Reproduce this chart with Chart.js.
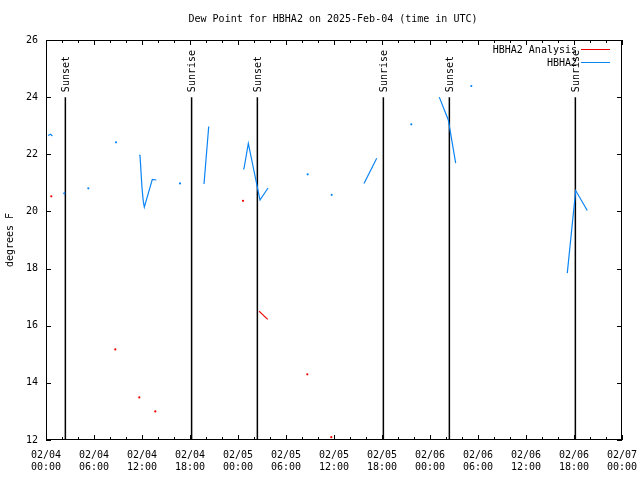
<!DOCTYPE html>
<html><head><meta charset="utf-8">
<script src="https://cdn.jsdelivr.net/npm/chart.js@4/dist/chart.umd.min.js"></script>
<style>html,body{margin:0;padding:0;background:#fff}</style>
</head><body>
<canvas id="c" width="640" height="480"></canvas>
<script>
const titleText = 'Dew Point for HBHA2 on 2025-Feb-04 (time in UTC)';
const yAxisTitle = 'degrees F';
const xTickDates = ['02/04','02/04','02/04','02/04','02/05','02/05','02/05','02/05','02/06','02/06','02/06','02/06','02/07'];
const xTickTimes = ['00:00','06:00','12:00','18:00','00:00','06:00','12:00','18:00','00:00','06:00','12:00','18:00','00:00'];
const yTicks = [12,14,16,18,20,22,24,26];

// hours since 2025-02-04 00:00 UTC; null marks a gap in the record
const obsHours = [0.25,0.58,0.79,null,2.29,null,5.29,null,8.75,null,
  11.66,11.75,12.0,12.16,12.29,13.29,13.79,null,16.75,null,19.75,20.34,null,
  24.66,24.75,25.29,26.75,27.75,null,32.71,null,35.71,null,39.75,41.34,null,
  45.66,null,49.16,50.29,51.21,null,53.16,null,65.16,66.21,67.66];
const obsDewPt = [22.66,22.70,22.64,null,20.63,null,20.81,null,22.42,null,
  21.98,21.96,20.82,20.35,20.15,21.12,21.10,null,20.98,null,20.96,22.97,null,
  21.47,21.50,22.38,20.40,20.82,null,21.30,null,20.58,null,20.98,21.86,null,
  23.05,null,24.00,23.20,21.69,null,24.39,null,17.84,20.73,20.03];

const anaHours = [0.66,null,8.66,null,11.66,null,13.66,null,24.63,null,26.63,27.71,null,32.66,null,35.66];
const anaDewPt = [20.53,null,15.17,null,13.49,null,13.00,null,20.37,null,16.51,16.22,null,14.30,null,12.10];

const sunHours = [2.42, 18.2, 26.42, 42.17, 50.42, 66.17];
const sunLabels = ['Sunset','Sunrise','Sunset','Sunrise','Sunset','Sunrise'];
const sunLineTop = 24;

const FONT = '10px "DejaVu Sans Mono", "Liberation Mono", monospace';

function toPoints(h, v) {
  return h.map((x, i) => ({ x: x === null ? h[i - 1] : x, y: v[i] }));
}
function isolatedRadius(ctx) {
  const d = ctx.dataset.data, i = ctx.dataIndex;
  if (!d[i] || d[i].y == null) return 0;
  const p = d[i - 1], n = d[i + 1];
  return ((!p || p.y == null) && (!n || n.y == null)) ? 1.1 : 0;
}

const overlay = {
  id: 'overlay',
  beforeDatasetsDraw(chart) {
    const { ctx, chartArea: a, scales: { x, y } } = chart;
    ctx.save();
    ctx.strokeStyle = '#000';
    ctx.lineWidth = 1.5;
    ctx.fillStyle = '#000';
    ctx.font = FONT;
    const yTop = y.getPixelForValue(sunLineTop);
    sunHours.forEach((h, i) => {
      const px = x.getPixelForValue(h);
      ctx.beginPath();
      ctx.moveTo(px, yTop);
      ctx.lineTo(px, a.bottom);
      ctx.stroke();
      ctx.save();
      ctx.translate(px + 1, yTop - 5);
      ctx.rotate(-Math.PI / 2);
      ctx.textAlign = 'left';
      ctx.textBaseline = 'middle';
      ctx.fillText(sunLabels[i], 0, 0);
      ctx.restore();
    });
    ctx.restore();
  },
  afterDatasetsDraw(chart) {
    const { ctx, chartArea: a, scales: { x, y } } = chart;
    ctx.save();
    ctx.strokeStyle = '#000';
    ctx.lineWidth = 1;
    ctx.strokeRect(Math.round(a.left) + 0.5, Math.round(a.top) + 0.5,
      Math.round(a.right - a.left) - 1, Math.round(a.bottom - a.top) - 1);
    ctx.beginPath();
    for (let h = 0; h <= 72; h += 2) {
      const px = Math.round(x.getPixelForValue(h)) + 0.5;
      const len = (h % 6 === 0) ? 5 : 3;
      ctx.moveTo(px, a.bottom); ctx.lineTo(px, a.bottom - len);
      ctx.moveTo(px, a.top); ctx.lineTo(px, a.top + len);
    }
    yTicks.forEach(v => {
      const py = Math.round(y.getPixelForValue(v)) + 0.5;
      ctx.moveTo(a.left, py); ctx.lineTo(a.left + 5, py);
      ctx.moveTo(a.right, py); ctx.lineTo(a.right - 5, py);
    });
    ctx.stroke();

    // title
    ctx.fillStyle = '#000';
    ctx.font = FONT;
    ctx.textAlign = 'center';
    ctx.textBaseline = 'middle';
    ctx.fillText(titleText, 333, 19);

    // legend (top right, inside)
    ctx.textAlign = 'right';
    const order = [1, 0];
    order.forEach((di, k) => {
      const ds = chart.data.datasets[di];
      const ly = 49 + k * 13;
      ctx.fillStyle = '#000';
      ctx.fillText(ds.label, 577, ly + 1);
      ctx.strokeStyle = ds.borderColor;
      ctx.beginPath();
      ctx.moveTo(581, ly + 0.5); ctx.lineTo(610, ly + 0.5);
      ctx.stroke();
    });
    ctx.restore();
  }
};

new Chart(document.getElementById('c'), {
  type: 'line',
  data: {
    datasets: [
      { label: 'HBHA2', data: toPoints(obsHours, obsDewPt), borderColor: '#0a84f5',
        backgroundColor: '#0a84f5', borderWidth: 1.2, pointRadius: isolatedRadius,
        pointBorderWidth: 0, spanGaps: false, tension: 0 },
      { label: 'HBHA2 Analysis', data: toPoints(anaHours, anaDewPt), borderColor: '#ee0000',
        backgroundColor: '#ee0000', borderWidth: 1.2, pointRadius: isolatedRadius,
        pointBorderWidth: 0, spanGaps: false, tension: 0 }
    ]
  },
  options: {
    responsive: false,
    devicePixelRatio: 1,
    animation: false,
    layout: { padding: { left: 0, right: 18, top: 40, bottom: 0 } },
    plugins: { legend: { display: false }, tooltip: { enabled: false }, title: { display: false } },
    scales: {
      x: {
        type: 'linear', min: 0, max: 72,
        grid: { display: false, drawTicks: false },
        border: { display: false },
        afterFit: s => { s.height = 40; s.paddingLeft = 0; s.paddingRight = 0; },
        afterBuildTicks: s => { s.ticks = xTickDates.map((_, i) => ({ value: i * 6 })); },
        ticks: {
          autoSkip: false, maxRotation: 0, minRotation: 0, padding: 9,
          color: '#000', font: { family: '"DejaVu Sans Mono", monospace', size: 10, lineHeight: 1.2 },
          callback: (v, i) => [xTickDates[i], xTickTimes[i]]
        }
      },
      y: {
        type: 'linear', min: 12, max: 26,
        grid: { display: false, drawTicks: false },
        border: { display: false },
        afterFit: s => { s.width = 46; s.paddingTop = 0; s.paddingBottom = 0; },
        afterBuildTicks: s => { s.ticks = yTicks.map(v => ({ value: v })); },
        ticks: { padding: 8, color: '#000',
          font: { family: '"DejaVu Sans Mono", monospace', size: 10, lineHeight: 1.2 } },
        title: { display: true, text: yAxisTitle, color: '#000', padding: { top: 4, bottom: 4 },
          font: { family: '"DejaVu Sans Mono", monospace', size: 10, lineHeight: 1.2 } }
      }
    }
  },
  plugins: [overlay]
});
</script>
</body></html>
